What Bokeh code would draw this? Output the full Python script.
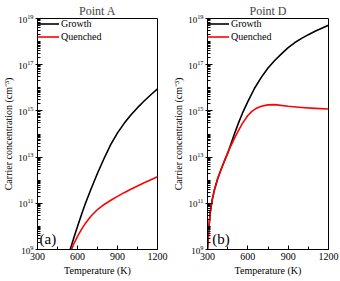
from bokeh.plotting import figure
from bokeh.layouts import row
from bokeh.models import (Range1d, FixedTicker, LogTickFormatter, Legend,
                          LegendItem, Label)
from bokeh.embed import file_html
from bokeh.resources import INLINE

# ---------------- data (log10 of carrier concentration, cm^-3) ----------------
a_growth_T = [545, 575, 600, 632, 660, 700, 750, 800, 850, 900, 950, 1000,
              1050, 1100, 1150, 1200]
a_growth_log = [9.0, 9.55, 10.0, 10.55, 11.0, 11.6, 12.3, 12.95, 13.55, 14.05,
                14.46, 14.82, 15.14, 15.43, 15.7, 15.95]

a_quench_T = [555, 575, 600, 630, 660, 700, 750, 800, 850, 900, 950, 1000,
              1050, 1100, 1150, 1200]
a_quench_log = [9.0, 9.28, 9.57, 9.87, 10.14, 10.44, 10.73, 10.95, 11.13,
                11.3, 11.46, 11.61, 11.75, 11.89, 12.02, 12.15]

d_growth_T = [300, 310, 320, 335, 350, 375, 400, 425, 450, 475, 500, 530, 560,
              600, 650, 700, 750, 800, 850, 900, 950, 1000, 1050, 1100, 1150,
              1200]
d_growth_log = [9.0, 9.9, 10.6, 11.15, 11.55, 12.05, 12.45, 12.82, 13.17,
                13.58, 14.0, 14.47, 14.9, 15.4, 15.98, 16.45, 16.86, 17.18,
                17.47, 17.74, 17.96, 18.14, 18.3, 18.45, 18.58, 18.71]

d_quench_T = [300, 310, 320, 335, 350, 375, 400, 425, 450, 475, 500, 530, 560,
              600, 630, 660, 700, 750, 800, 900, 1000, 1100, 1200]
d_quench_log = [9.0, 9.9, 10.6, 11.15, 11.55, 12.05, 12.45, 12.82, 13.17,
                13.5, 13.81, 14.15, 14.46, 14.8, 14.98, 15.1, 15.2, 15.26,
                15.27, 15.2, 15.15, 15.11, 15.08]

major_exps = [9, 11, 13, 15, 17, 19]
minor_exps = list(range(9, 19))
minor_mants = [2, 3, 4, 5, 6, 7, 8, 9, 10]

x_ticks = [300, 600, 900, 1200]
x_minor = [450, 750, 1050]

titles = ["Point A", "Point D"]
panel_tags = ["(a)", "(b)"]
series_names = ["Growth", "Quenched"]
x_label = "Temperature (K)"
y_label = "Carrier concentration (cm\u207b\u00b3)"

FONT = "Liberation Serif"
FIG_H = 281


def make_panel(title, tag, tag_x, growth, quench, width, bl, br):
    p = figure(width=width, height=FIG_H, y_axis_type="log",
               x_range=Range1d(300, 1200), y_range=Range1d(1e9, 1e19),
               output_backend="svg", toolbar_location=None,
               min_border_left=bl, min_border_right=br,
               min_border_top=16, min_border_bottom=32)
    p.title.text = title
    p.title.text_font = FONT
    p.title.text_font_size = "12px"
    p.title.text_font_style = "normal"
    p.title.align = "center"
    p.title.standoff = 2
    p.grid.visible = False
    p.outline_line_color = "black"
    p.outline_line_width = 1
    p.background_fill_color = "white"
    p.border_fill_color = "white"

    p.yaxis.ticker = FixedTicker(
        ticks=[10.0 ** e for e in major_exps],
        minor_ticks=[m * 10.0 ** e for e in minor_exps for m in minor_mants])
    p.yaxis.formatter = LogTickFormatter(min_exponent=0)
    p.xaxis.ticker = FixedTicker(ticks=x_ticks, minor_ticks=x_minor)

    for ax in (p.xaxis, p.yaxis):
        ax.axis_line_color = "black"
        ax.major_tick_line_color = "black"
        ax.minor_tick_line_color = "black"
        ax.major_label_text_font = FONT
        ax.major_label_text_color = "black"
        ax.axis_label_text_font = FONT
        ax.axis_label_text_font_size = "10px"
        ax.axis_label_text_font_style = "normal"
        ax.axis_label_text_color = "black"
    p.yaxis.major_label_text_font_size = "9px"
    p.xaxis.major_label_text_font_size = "10px"
    p.yaxis.major_label_standoff = 2
    p.yaxis.axis_label_standoff = 1
    p.xaxis.major_label_standoff = 3
    p.xaxis.axis_label_standoff = 2
    p.yaxis.major_tick_in = 5
    p.yaxis.major_tick_out = 2
    p.yaxis.minor_tick_in = 3
    p.yaxis.minor_tick_out = 0
    p.xaxis.major_tick_in = 4
    p.xaxis.major_tick_out = 0
    p.xaxis.minor_tick_in = 3
    p.xaxis.minor_tick_out = 0
    p.xaxis.axis_label = x_label
    p.yaxis.axis_label = y_label

    gT, gL = growth
    qT, qL = quench
    r1 = p.line(gT, [10.0 ** v for v in gL], line_color="black",
                line_width=1.6, line_join="round")
    r2 = p.line(qT, [10.0 ** v for v in qL], line_color="red",
                line_width=1.6, line_join="round")

    legend = Legend(items=[LegendItem(label=series_names[0], renderers=[r1]),
                           LegendItem(label=series_names[1], renderers=[r2])],
                    location="top_left")
    legend.border_line_color = None
    legend.background_fill_alpha = 0
    legend.label_text_font = FONT
    legend.label_text_font_size = "10px"
    legend.label_text_color = "black"
    legend.glyph_width = 22
    legend.glyph_height = 11
    legend.label_height = 11
    legend.label_standoff = 2
    legend.spacing = 2
    legend.padding = 3
    legend.margin = 0
    p.add_layout(legend)

    p.add_layout(Label(x=tag_x, y=10 ** 9.12, text=tag, text_font=FONT,
                       text_font_size="15px", text_color="black",
                       text_baseline="bottom", text_align="left"))
    return p


p1 = make_panel(titles[0], panel_tags[0], 315, (a_growth_T, a_growth_log),
                (a_quench_T, a_quench_log), 170, 35, 13)
p2 = make_panel(titles[1], panel_tags[1], 336, (d_growth_T, d_growth_log),
                (d_quench_T, d_quench_log), 170, 34, 12)

layout = row(p1, p2)
open("out.html", "w").write(file_html(layout, INLINE))
